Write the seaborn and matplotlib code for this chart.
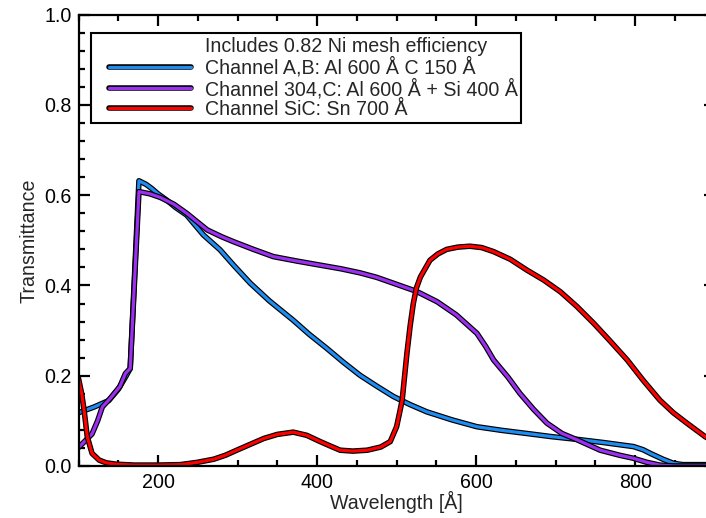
import numpy as np
import pandas as pd
import matplotlib
matplotlib.use("Agg")
import matplotlib.pyplot as plt
import matplotlib.patheffects as pe
from matplotlib.lines import Line2D
from matplotlib.legend_handler import HandlerLine2D
from matplotlib.ticker import MultipleLocator, FormatStrFormatter
import seaborn as sns

# Channel A,B: Al 600 A + C 150 A
wave_ab = [100, 120, 138, 150, 160, 165, 176, 185, 192, 200, 211, 222, 236, 257, 278,
           295, 316, 340, 370, 390, 412, 433, 454, 475, 496, 517, 538, 570, 601, 632,
           664, 695, 727, 760, 798, 810, 819, 835, 848, 860, 900]
trans_ab = [0.118, 0.131, 0.145, 0.170, 0.200, 0.216, 0.632, 0.624, 0.615, 0.603, 0.589,
            0.573, 0.556, 0.512, 0.479, 0.445, 0.405, 0.366, 0.323, 0.292, 0.261, 0.230,
            0.201, 0.177, 0.154, 0.136, 0.120, 0.102, 0.087, 0.079, 0.072, 0.065, 0.059,
            0.052, 0.043, 0.036, 0.028, 0.015, 0.006, 0.003, 0.003]

# Channel 304,C: Al 600 A + Si 400 A
wave_304 = [100, 108, 117, 124, 130, 140, 152, 159, 165, 176, 190, 203, 220, 236, 250,
            262, 280, 295, 320, 345, 375, 404, 430, 454, 475, 496, 525, 551, 575, 601,
            612, 622, 640, 655, 672, 689, 708, 727, 756, 780, 798, 815, 831, 850, 900]
trans_304 = [0.041, 0.055, 0.071, 0.100, 0.131, 0.150, 0.176, 0.205, 0.216, 0.608, 0.603,
             0.595, 0.580, 0.560, 0.540, 0.523, 0.508, 0.497, 0.480, 0.464, 0.454, 0.445,
             0.437, 0.428, 0.418, 0.405, 0.387, 0.364, 0.335, 0.294, 0.265, 0.235, 0.197,
             0.161, 0.126, 0.095, 0.072, 0.058, 0.035, 0.024, 0.017, 0.008, 0.002, 0.0, 0.0]

# Channel SiC: Sn 700 A
wave_sic = [100, 104, 107, 111, 117, 126, 135, 147, 170, 200, 228, 249, 270, 285, 299,
            316, 333, 350, 370, 387, 404, 417, 429, 445, 463, 480, 492, 500, 504, 507,
            513, 517, 521, 525, 530, 542, 552, 563, 577, 592, 607, 622, 643, 664, 685,
            706, 727, 748, 769, 790, 810, 831, 848, 865, 888, 900]
trans_sic = [0.194, 0.160, 0.124, 0.065, 0.028, 0.013, 0.007, 0.004, 0.002, 0.002, 0.003,
             0.008, 0.015, 0.024, 0.035, 0.048, 0.061, 0.070, 0.075, 0.068, 0.054, 0.044,
             0.035, 0.033, 0.035, 0.042, 0.054, 0.087, 0.120, 0.146, 0.250, 0.310, 0.360,
             0.395, 0.419, 0.456, 0.470, 0.480, 0.485, 0.487, 0.484, 0.475, 0.458, 0.434,
             0.412, 0.386, 0.353, 0.316, 0.276, 0.235, 0.190, 0.146, 0.118, 0.095, 0.065,
             0.053]

legend_title = "Includes 0.82 Ni mesh efficiency"
labels = ["Channel A,B: Al 600 Å C 150 Å",
          "Channel 304,C: Al 600 Å + Si 400 Å",
          "Channel SiC: Sn 700 Å"]
colors = ["#1e8cf0", "#9b30f0", "#ff0000"]

sns.set_style("ticks")
plt.rcParams["font.family"] = ["Liberation Sans", "DejaVu Sans"]
fs = 14.1
plt.rcParams["font.size"] = fs

fig = plt.figure(figsize=(7.06, 5.18), dpi=100)
ax = fig.add_axes([0.1112, 0.1004, 0.9011, 0.8712])

series = [(wave_ab, trans_ab), (wave_304, trans_304), (wave_sic, trans_sic)]
outline = [pe.Stroke(linewidth=4.0, foreground="black"), pe.Normal()]
for (w, t), lab, col in zip(series, labels, colors):
    df = pd.DataFrame({"wavelength": w, "transmittance": t})
    sns.lineplot(data=df, x="wavelength", y="transmittance", ax=ax, color=col,
                 linewidth=2.3, sort=False, estimator=None, label=lab,
                 path_effects=outline)

ax.set_xlim(100, 900)
ax.set_ylim(0, 1.0)
ax.xaxis.set_major_locator(MultipleLocator(200))
ax.xaxis.set_minor_locator(MultipleLocator(50))
ax.yaxis.set_major_locator(MultipleLocator(0.2))
ax.yaxis.set_minor_locator(MultipleLocator(0.04))
ax.yaxis.set_major_formatter(FormatStrFormatter("%.1f"))
ax.tick_params(which="both", direction="in", top=True, right=True, width=1.6,
               colors="black", labelsize=fs)
ax.tick_params(which="major", length=8)
ax.tick_params(which="minor", length=4.3)
ax.tick_params(axis="x", pad=5)
ax.tick_params(axis="y", pad=5)
for s in ax.spines.values():
    s.set_linewidth(1.6)
    s.set_color("black")

ax.set_xlabel("Wavelength [Å]", fontsize=fs, labelpad=-1)
ax.set_ylabel("Transmittance", fontsize=fs, labelpad=4)

handles = [Line2D([], [], color="none")] + ax.lines[:3]
leg = ax.legend(handles, [legend_title] + labels, loc="upper left",
                bbox_to_anchor=(0.0196, 0.9588), borderaxespad=0, borderpad=0.2,
                handlelength=4.9, handletextpad=0.7, labelspacing=0.05,
                fontsize=fs, fancybox=False, framealpha=1, edgecolor="black",
                handler_map={Line2D: HandlerLine2D(xpad=0.7)})
leg.get_frame().set_linewidth(1.5)

fig.savefig("out.png", dpi=100)
